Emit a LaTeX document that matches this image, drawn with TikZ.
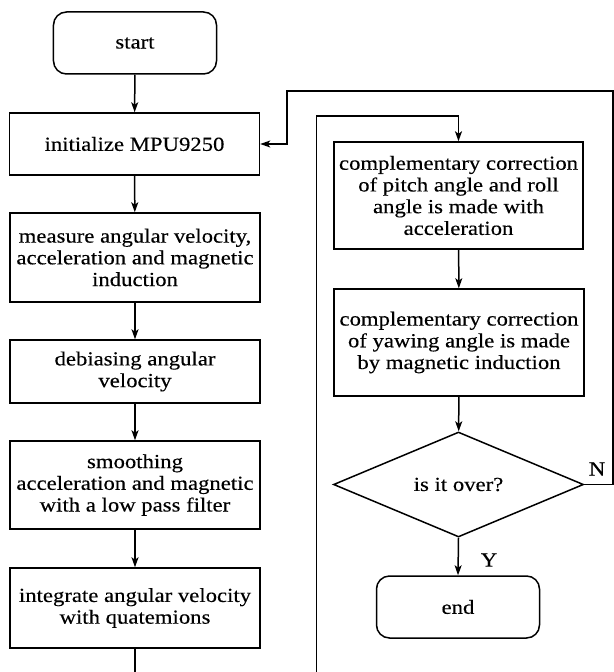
\documentclass[tikz,border=0pt]{standalone}
\usepackage{fontspec}
\setmainfont[FakeStretch=1.14,FakeBold=0.3]{Liberation Serif}
\usetikzlibrary{shapes.geometric,arrows.meta}
\begin{document}
\begin{tikzpicture}[x=1bp,y=-1bp,
  line width=1.5bp,
  every node/.style={font=\fontsize{20}{21.8}\selectfont, align=center, inner sep=0pt},
  proc/.style={draw, rectangle, minimum width=250bp},
  term/.style={draw, rectangle, rounded corners=13bp, minimum width=163bp, minimum height=62bp},
  decide/.style={draw, diamond, aspect=2.4, minimum width=250bp, minimum height=105bp},
  flow/.style={-{Stealth[length=10bp,width=7bp,inset=2.5bp]}},
  lbl/.style={font=\fontsize{20}{20}\selectfont}
]
\useasboundingbox (0,0) rectangle (614,672);

% main column
\node[term] (start) at (135,43) {start};
\node[proc, minimum height=62bp] (init) at (134.5,144) {initialize MPU9250};
\node[proc, minimum height=89bp] (meas) at (135,257.5) {measure angular velocity,\\acceleration and magnetic\\induction};
\node[proc, minimum height=63bp] (debias) at (135,371.5) {debiasing angular\\velocity};
\node[proc, minimum height=88bp] (smooth) at (135,485) {smoothing\\acceleration and magnetic\\with a low pass filter};
\node[proc, minimum height=80bp] (integ) at (135,608) {integrate angular velocity\\with quatemions};

% correction column
\node[proc, minimum width=249bp, minimum height=107bp] (pitch) at (458.5,195.5) {complementary correction\\of pitch angle and roll\\angle is made with\\acceleration};
\node[proc, minimum height=107bp] (yaw) at (459,342.5) {complementary correction\\of yawing angle is made\\by magnetic induction};
\node[decide] (over) at (458.5,484.5) {is it over?};
\node[term] (end) at (458,607) {end};

% routing points
\coordinate (outA) at (135,672);
\coordinate (inA) at (316.5,672);
\coordinate (inB) at (316.5,116);
\coordinate (inC) at (458.5,116);
\coordinate (nA) at (613,484.5);
\coordinate (nB) at (613,91);
\coordinate (nC) at (287,91);
\coordinate (nD) at (287,144);

% connectors
\draw[flow] (start) -- (init);
\draw[flow] (init) -- (meas);
\draw[flow] (meas) -- (debias);
\draw[flow] (debias) -- (smooth);
\draw[flow] (smooth) -- (integ);
\draw (integ) -- (outA);
\draw[flow] (inA) -- (inB) -- (inC) -- (pitch.north);
\draw[flow] (pitch) -- (yaw);
\draw[flow] (yaw) -- (over);
\draw[flow] (over.south) -- (end.north);
\node[lbl] (ylab) at (489,560) {Y};
\draw[flow] (over.east) -- (nA) -- (nB) -- (nC) -- (nD) -- (init.east);
\node[lbl] (nlab) at (597,469) {N};
\end{tikzpicture}
\end{document}
